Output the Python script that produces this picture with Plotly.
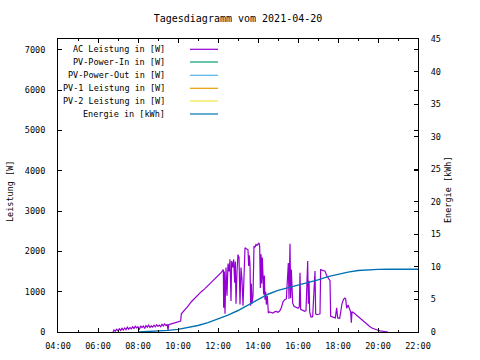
import plotly.graph_objects as go

DAY = "2021-04-20"

# AC Leistung in [W]
ac_time = ["06:45","06:48","06:52","06:56","07:00","07:04","07:08","07:12","07:16","07:20","07:24","07:28",
           "07:32","07:36","07:40","07:44","07:48","07:52","07:56","08:00","08:04","08:08","08:12","08:16",
           "08:20","08:24","08:28","08:32","08:36","08:40","08:44","08:48","08:52","08:56","09:00","09:04",
           "09:08","09:12","09:16","09:20","09:24","09:28","09:30","09:32","09:40","09:50","10:00","10:08",
           "10:10","10:20","10:30","10:40","10:50","11:00","11:10","11:20","11:30","11:40","11:50","12:00",
           "12:10","12:16","12:17","12:19","12:21","12:24","12:27","12:30","12:33","12:36","12:39","12:41",
           "12:44","12:47","12:50","12:52","12:54","12:57","13:00","13:03","13:06","13:09","13:12","13:15",
           "13:18","13:21","13:24","13:27","13:30","13:32","13:34","13:36","13:38","13:40","13:42","13:45",
           "13:48","13:51","13:54","13:57","14:00","14:03","14:05","14:07","14:09","14:11","14:13","14:15",
           "14:17","14:19","14:21","14:23","14:25","14:28","14:31","14:35","14:40","14:45","14:50","14:55",
           "15:00","15:05","15:10","15:15","15:20","15:25","15:31","15:33","15:36","15:38","15:40","15:42",
           "15:44","15:48","15:52","15:56","16:00","16:04","16:06","16:08","16:14","16:20","16:24","16:29",
           "16:31","16:33","16:35","16:39","16:44","16:51","16:53","16:57","17:02","17:06","17:08","17:14",
           "17:21","17:26","17:31","17:36","17:38","17:45","17:52","17:56","17:59","18:05","18:08","18:12",
           "18:16","18:20","18:23","18:26","18:30","18:34","18:38","18:40","18:42","18:48","18:55","19:00",
           "19:06","19:12","19:18","19:24","19:30","19:36","19:42","19:48","19:54","20:00","20:06","20:12",
           "20:18","20:24","20:30"]
ac_watt = [0,50,20,70,30,80,40,90,50,100,60,120,
           70,110,80,130,90,140,100,130,60,150,110,150,
           90,160,120,170,110,150,120,170,130,180,140,170,
           130,190,150,200,160,190,40,180,200,230,250,270,
           450,540,640,750,840,920,1000,1070,1150,1230,1330,1410,
           1480,1550,600,1500,450,1600,900,1700,1500,1800,770,1760,
           1600,1800,1220,1750,700,1500,1920,1850,680,1600,1300,650,
           1500,2090,2070,2050,2040,1640,1900,1680,650,1200,700,900,
           2130,2100,2170,2150,2190,2210,2130,1090,1930,1200,1850,1500,
           930,1400,800,1000,680,900,470,500,480,470,500,510,
           490,520,600,750,800,820,1710,820,2190,840,1550,1090,
           720,640,620,600,590,620,1470,560,540,515,530,1760,
           700,1270,500,370,380,1510,450,430,440,450,1550,1540,
           1510,1400,1340,1270,390,360,350,600,350,340,560,700,
           800,840,820,590,670,600,500,230,505,470,420,380,
           330,290,250,210,170,130,100,75,60,45,30,25,
           10,5,0]

# Energie in [kWh]
en_time = ["08:00","08:30","09:00","09:30","10:00","10:30","11:00","11:30","12:00","12:30","13:00",
           "13:30","14:00","14:30","15:00","15:30","16:00","16:30","17:00","17:30","18:00","18:30",
           "19:00","19:30","20:00","20:30","22:00"]
en_kwh = [0,0.05,0.15,0.25,0.4,0.7,1.0,1.45,2.0,2.6,3.3,
          4.1,4.9,5.8,6.4,6.8,7.2,7.5,8.0,8.5,8.9,9.2,
          9.45,9.55,9.62,9.63,9.63]

legend_labels = ["AC Leistung in [W]", "PV-Power-In in [W]", "PV-Power-Out in [W]",
                 "PV-1 Leistung in [W]", "PV-2 Leistung in [W]", "Energie in [kWh]"]
legend_colors = ["#9400D3", "#009E73", "#56B4E9", "#E69F00", "#F0E442", "#0072B2"]

FONT = "DejaVu Sans Mono"

fig = go.Figure()
fig.add_trace(go.Scatter(x=[f"{DAY} {t}" for t in ac_time], y=ac_watt, mode="lines",
                         line=dict(color=legend_colors[0], width=1.2), name=legend_labels[0]))
fig.add_trace(go.Scatter(x=[f"{DAY} {t}" for t in en_time], y=en_kwh, mode="lines",
                         line=dict(color=legend_colors[5], width=1.4),
                         name=legend_labels[5], yaxis="y2"))

annotations = []
shapes = []
row_y = [49.3, 62.0, 75.3, 88.3, 101.0, 114.0]
for lab, col, ry in zip(legend_labels, legend_colors, row_y):
    py = (332 - ry) / 293
    annotations.append(dict(x=(167 - 58) / 360, y=py, xref="paper", yref="paper", text=lab,
                            showarrow=False, xanchor="right", yanchor="middle",
                            font=dict(family=FONT, size=8.5, color="black")))
    shapes.append(dict(type="line", xref="paper", yref="paper", x0=(190 - 58) / 360, x1=(218 - 58) / 360,
                       y0=py, y1=py, line=dict(color=col, width=1.2)))

annotations.append(dict(x=-48 / 360, y=(332 - 192) / 293, xref="paper", yref="paper", text="Leistung [W]",
                        textangle=-90, showarrow=False, xanchor="center", yanchor="middle",
                        font=dict(family=FONT, size=8.5, color="black")))
annotations.append(dict(x=(448 - 58) / 360, y=(332 - 190) / 293, xref="paper", yref="paper", text="Energie [kWh]",
                        textangle=-90, showarrow=False, xanchor="center", yanchor="middle",
                        font=dict(family=FONT, size=8.5, color="black")))

fig.update_layout(
    width=480, height=360,
    margin=dict(l=58, r=62, t=39, b=28),
    paper_bgcolor="white", plot_bgcolor="white",
    showlegend=False,
    font=dict(family=FONT, size=8.5, color="black"),
    title=dict(text="Tagesdiagramm vom 2021-04-20", x=0.5, xref="paper", xanchor="center",
               y=(360 - 18) / 360, yanchor="middle", font=dict(family=FONT, size=10, color="black")),
    xaxis=dict(type="date", range=[f"{DAY} 04:00", f"{DAY} 22:00"], dtick=7200000,
               tick0=f"{DAY} 04:00", tickformat="%H:%M", ticks="inside", ticklen=4,
               tickcolor="black", showgrid=False, zeroline=False, showline=True, linecolor="black",
               linewidth=1, mirror="ticks", ticklabelstandoff=6, automargin=False,
               minor=dict(dtick=3600000, ticks="inside", ticklen=2, tickcolor="black", showgrid=False)),
    yaxis=dict(range=[0, 7266], dtick=1000, tick0=0, ticks="inside", ticklen=4, tickcolor="black",
               showgrid=False, zeroline=False, showline=True, linecolor="black", linewidth=1,
               mirror="ticks", ticklabelstandoff=10, automargin=False),
    yaxis2=dict(range=[0, 45], dtick=5, tick0=0, overlaying="y", side="right", ticks="inside",
                ticklen=4, tickcolor="black", showgrid=False, zeroline=False, showline=True,
                linecolor="black", linewidth=1, ticklabelstandoff=10, automargin=False),
    annotations=annotations,
    shapes=shapes,
)

fig.write_html("out.html", config={"displayModeBar": False},
               post_script="document.body.style.margin='0px';document.body.style.padding='0px';")
